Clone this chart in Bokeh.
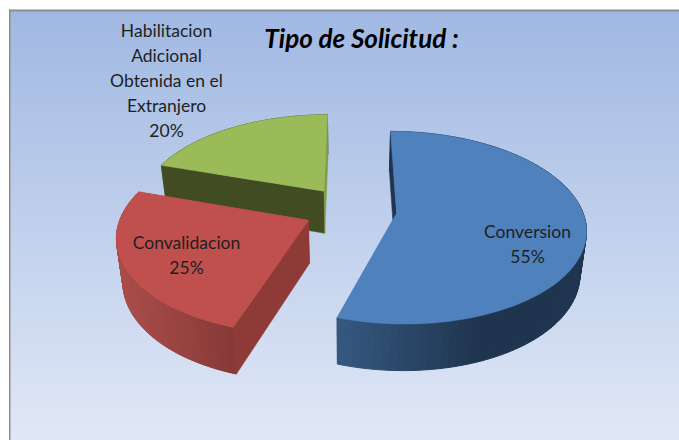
import numpy as np
from bokeh.plotting import figure
from bokeh.embed import file_html
from bokeh.resources import INLINE
from bokeh.core.properties import value

# --- data ---
categories = ["Conversion", "Convalidacion", "Habilitacion Adicional Obtenida en el Extranjero"]
percents = [55, 25, 20]
title_text = "Tipo de Solicitud :"
label_lines = [["Conversion", "55%"], ["Convalidacion", "25%"],
               ["Habilitacion", "Adicional", "Obtenida en el", "Extranjero", "20%"]]

# --- styles ---
top_colors = ["#4f81bd", "#c0504d", "#9bbb59"]
side_grad = [("#35587f", "#1f344e", 338, 480), ("#a94d4a", "#853836", 120, 236), ("#5a6e33", "#5a6e33", 160, 330)]
start_face = ["#1f344e", "#8e3b38", "#414c23"]
end_face = ["#1f344e", "#8e3b38", "#7f9c47"]
hidden_face = ["end", "end", None]
label_pos = [(527, 231), (186, 242), (166, 30)]

# --- pie geometry (perspective disc) ---
CX, CY, A, B, K, EXPL = 350, 209, 185.5, 93, 0.15, 0.25
DEPTH, SHRINK, DGROW = 43, 0.972, 0.035


def proj(u, v, low=False):
    f = 1 + K * v
    x = CX + A * u / f
    y = CY - B * v / f
    if low:
        y = y + DEPTH + (y - 220) * DGROW
        x = CX + (x - CX) * SHRINK
    return x, y


def hex2rgb(h):
    return np.array([int(h[i:i + 2], 16) for i in (1, 3, 5)], float)


def mix(c0, c1, t):
    t = min(1, max(0, t))
    c = hex2rgb(c0) * (1 - t) + hex2rgb(c1) * t
    return "#%02x%02x%02x" % tuple(int(round(a)) for a in c)


W, H = 679, 440
p = figure(width=W, height=H, x_range=(0, W), y_range=(H, 0), output_backend="svg",
           toolbar_location=None, min_border=0, x_axis_location=None, y_axis_location=None)
p.grid.visible = False
p.outline_line_color = None
p.background_fill_color = "white"
p.border_fill_color = "white"

# background gradient
ys = np.arange(10, 440, 2)
g0, g1 = "#9cb6e3", "#e0e7f6"
cols = [mix(g0, g1, (y - 10) / 430) for y in ys]
p.quad(left=9, right=W, top=ys, bottom=ys + 2, fill_color=cols, line_color=cols, line_width=0.5)
p.quad(left=8.5, right=10, top=9, bottom=H, fill_color="#8c8c8c", line_color=None)
p.quad(left=8.5, right=W, top=9, bottom=11, fill_color="#8c8c8c", line_color=None)

# slices, drawn back to front
fracs = np.array(percents, float) / sum(percents)
ends = np.cumsum(fracs) * 2 * np.pi
starts = ends - fracs * 2 * np.pi
for i in (2, 1, 0):
    a0, a1 = starts[i], ends[i]
    mid = (a0 + a1) / 2
    du, dv = EXPL * np.sin(mid), EXPL * np.cos(mid)
    ts = np.linspace(a0, a1, 100)
    us, vs = du + np.sin(ts), dv + np.cos(ts)
    tx, ty = proj(us, vs)
    bx, by = proj(us, vs, True)
    ax, ay = proj(du, dv)
    alx, aly = proj(du, dv, True)
    start_poly = ([ax, tx[0], bx[0], alx], [ay, ty[0], by[0], aly], start_face[i])
    end_poly = ([ax, tx[-1], bx[-1], alx], [ay, ty[-1], by[-1], aly], end_face[i])
    if hidden_face[i] == "end":
        p.patch(end_poly[0], end_poly[1], fill_color=top_colors[i], line_color=None)
    c0, c1, x0, x1 = side_grad[i]
    xs_list, ys_list, sc = [], [], []
    for j in range(len(ts) - 1):
        xs_list.append([tx[j], tx[j + 1], bx[j + 1], bx[j]])
        ys_list.append([ty[j], ty[j + 1], by[j + 1], by[j]])
        sc.append(mix(c0, c1, ((tx[j] + tx[j + 1]) / 2 - x0) / (x1 - x0)))
    p.patches(xs_list, ys_list, fill_color=sc, line_color=sc, line_width=1.0)
    p.patch(start_poly[0], start_poly[1], fill_color=start_poly[2], line_color=start_poly[2], line_width=0.5)
    if hidden_face[i] != "end":
        p.patch(end_poly[0], end_poly[1], fill_color=end_poly[2], line_color=end_poly[2], line_width=0.5)
    p.patch([ax] + list(tx), [ay] + list(ty), fill_color=top_colors[i],
            line_color=top_colors[i], line_width=0.5)

# labels
for lines, (lx, ly) in zip(label_lines, label_pos):
    yy = [ly + 25 * n for n in range(len(lines))]
    p.text(x=[lx] * len(lines), y=yy, text=lines, text_font=value("Lato"), text_font_size="17.5px",
           text_color="#1f1f1f", text_align="center", text_baseline="middle")
p.text(x=[361], y=[37], text=[title_text], text_font=value("Lato"), text_font_size="26px",
       text_font_style="bold italic", text_color="#000000", text_align="center", text_baseline="middle")

open("out.html", "w").write(file_html(p, INLINE))
